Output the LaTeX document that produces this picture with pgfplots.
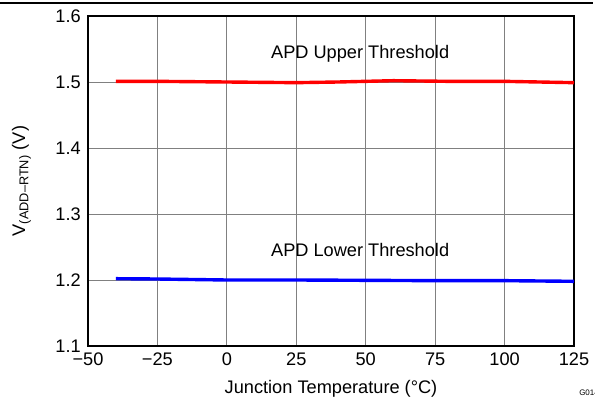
\documentclass[border=0pt]{standalone}
\usepackage{pgfplots}
\pgfplotsset{compat=1.18}
\usepackage{fontspec}
\setmainfont{Liberation Sans}
\begin{document}
\fontsize{18.2bp}{21bp}\selectfont
\begin{tikzpicture}
\useasboundingbox (0,0) rectangle (595bp,402bp);
\draw[line width=1.2bp] (0,399bp) -- (593bp,399bp);
\begin{axis}[
  at={(88bp,56bp)}, anchor=south west,
  scale only axis, width=486bp, height=330bp,
  xmin=-50, xmax=125, ymin=1.1, ymax=1.6,
  xtick={-50,-25,0,25,50,75,100,125},
  xticklabels={−50,−25,0,25,50,75,100,125},
  ytick={1.1,1.2,1.3,1.4,1.5,1.6},
  yticklabels={1.1,1.2,1.3,1.4,1.5,1.6},
  yticklabel style={xshift=-1bp},
  grid=major, major grid style={gray, line width=0.8bp},
  major tick length=0pt,
  axis line style={line width=1.6bp},
  tick label style={font=\fontsize{18.2bp}{21bp}\selectfont},
  xticklabel style={yshift=-1bp},
  xlabel={Junction Temperature (°C)},
  ylabel={V\textsubscript{(ADD–RTN)} (V)},
  label style={font=\fontsize{18.2bp}{21bp}\selectfont},
  xlabel style={yshift=-2bp},
  ylabel style={yshift=12bp},
  clip=false,
]
\addplot[red, line width=3.4bp] coordinates {
(-40,1.5010) (-25,1.5010) (0,1.5000) (25,1.4990) (40,1.5000) (60,1.5020) (80,1.5010) (100,1.5010) (125,1.4990)};
\addplot[blue, line width=3.4bp] coordinates {
(-40,1.2020) (-25,1.2015) (0,1.2000) (25,1.2000) (50,1.1995) (75,1.1990) (100,1.1990) (125,1.1980)};
\node at (axis cs:48,1.543) {APD Upper Threshold};
\node at (axis cs:48,1.245) {APD Lower Threshold};
\end{axis}
\node[font=\fontsize{8bp}{9bp}\selectfont, anchor=west] at (573bp,9bp) {G014};
\end{tikzpicture}
\end{document}
